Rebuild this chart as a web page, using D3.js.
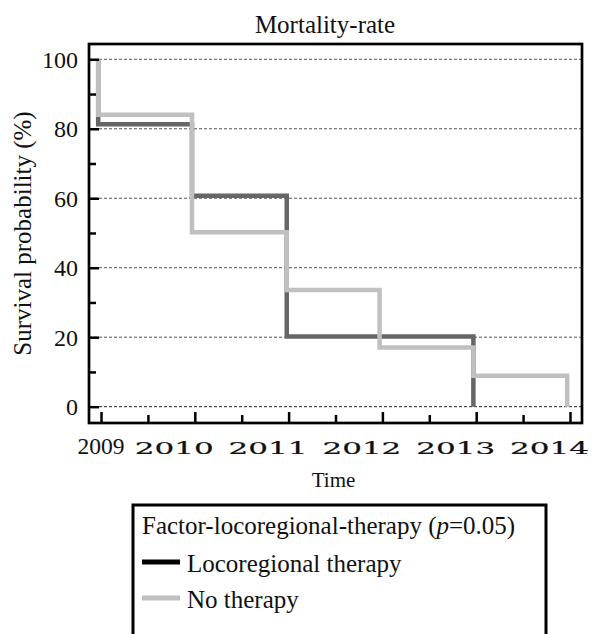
<!DOCTYPE html>
<html>
<head>
<meta charset="utf-8">
<script src="https://cdn.jsdelivr.net/npm/d3@7"></script>
<style>
    html, body { margin: 0; padding: 0; background: #fff; }
    svg { display: block; }
    text { font-family: "Liberation Serif", "Times New Roman", serif; fill: #111; }
</style>
</head>
<body>
<svg id="chart" width="592" height="634"></svg>
<script>
// Data

const locoTimes = [2008.97, 2008.97, 2009.97, 2010.98, 2012.97];
const locoSurv = [100, 81.3, 60.7, 20.2, 0];

const noTimes = [2008.97, 2008.97, 2009.97, 2010.98, 2011.97, 2012.97, 2013.97];
const noSurv = [100, 84, 50.2, 33.6, 17, 8.9, 0];

const yearTicks = [2009, 2010, 2011, 2012, 2013, 2014];
const yearMinor = [2009.5, 2010.5, 2011.5, 2012.5, 2013.5];
const yTicks = [0, 20, 40, 60, 80, 100];
const yMinor = [10, 30, 50, 70, 90];

const legendTitle = "Factor-locoregional-therapy";
const seriesNames = ["Locoregional therapy", "No therapy"];

// Layout

const frame = { left: 89, right: 582, top: 44, bottom: 423 };
const svg = d3.select("#chart");

// Scales

const x = d3.scaleLinear()
    .domain([2008.872, 2014.128])
    .range([frame.left, frame.right]);

const y = d3.scaleLinear()
    .domain([-4.7, 104.4])
    .range([frame.bottom, frame.top]);

// Grid lines (dashed)

svg.append("g")
    .selectAll("line")
    .data(yTicks)
    .join("line")
    .attr("x1", frame.left)
    .attr("x2", frame.right)
    .attr("y1", d => y(d))
    .attr("y2", d => y(d))
    .attr("stroke", d => d === 0 ? "#222" : "#555")
    .attr("stroke-width", 1)
    .attr("stroke-dasharray", "3,2");

// Survival curves

const step = d3.line()
    .x(d => x(d[0]))
    .y(d => y(d[1]))
    .curve(d3.curveStepAfter);

svg.append("path")
    .datum(d3.zip(locoTimes, locoSurv))
    .attr("fill", "none")
    .attr("stroke", "#666")
    .attr("stroke-width", 4.5)
    .attr("d", step);

svg.append("path")
    .datum(d3.zip(noTimes, noSurv))
    .attr("fill", "none")
    .attr("stroke", "#c0c0c0")
    .attr("stroke-width", 4.5)
    .attr("d", step);

// Axes (ticks point inward)

const axisStyle = g => {
    g.select(".domain").remove();
    g.selectAll(".tick line").attr("stroke", "#000").attr("stroke-width", 2.5);
    g.selectAll(".tick text").remove();
};

svg.append("g")
    .attr("transform", `translate(${frame.left},0)`)
    .call(d3.axisLeft(y).tickValues(yTicks).tickSize(-10))
    .call(axisStyle);

svg.append("g")
    .attr("transform", `translate(${frame.left},0)`)
    .call(d3.axisLeft(y).tickValues(yMinor).tickSize(-7))
    .call(axisStyle);

svg.append("g")
    .attr("transform", `translate(0,${frame.bottom})`)
    .call(d3.axisBottom(x).tickValues(yearTicks).tickSize(-11))
    .call(axisStyle);

svg.append("g")
    .attr("transform", `translate(0,${frame.bottom})`)
    .call(d3.axisBottom(x).tickValues(yearMinor).tickSize(-8))
    .call(axisStyle);

// Frame

svg.append("rect")
    .attr("x", frame.left)
    .attr("y", frame.top)
    .attr("width", frame.right - frame.left)
    .attr("height", frame.bottom - frame.top)
    .attr("fill", "none")
    .attr("stroke", "#000")
    .attr("stroke-width", 2.7);

// Tick labels

svg.append("g")
    .selectAll("text")
    .data(yTicks)
    .join("text")
    .attr("x", frame.left - 11)
    .attr("y", d => y(d))
    .attr("dy", "0.35em")
    .attr("text-anchor", "end")
    .style("font-size", "24px")
    .text(d => d);

// first year label is in the plain font, the rest are wider
svg.append("text")
    .attr("x", x(yearTicks[0]))
    .attr("y", 454)
    .attr("text-anchor", "middle")
    .style("font-size", "23.5px")
    .text(yearTicks[0]);

svg.append("g")
    .selectAll("text")
    .data(yearTicks.slice(1))
    .join("text")
    .attr("x", d => x(d) - 60)
    .attr("y", 454)
    .attr("textLength", 79)
    .attr("lengthAdjust", "spacingAndGlyphs")
    .style("font-family", "'DejaVu Serif', serif")
    .style("font-size", "16.5px")
    .style("stroke", "#111")
    .style("stroke-width", 0.2)
    .text(d => d);

// Titles

svg.append("text")
    .attr("x", 325)
    .attr("y", 33)
    .attr("text-anchor", "middle")
    .style("font-size", "25px")
    .text("Mortality-rate");

svg.append("text")
    .attr("transform", `translate(31,${(frame.top + frame.bottom) / 2}) rotate(-90)`)
    .attr("text-anchor", "middle")
    .style("font-size", "25px")
    .text("Survival probability (%)");

svg.append("text")
    .attr("x", 333.5)
    .attr("y", 487)
    .attr("text-anchor", "middle")
    .style("font-size", "21px")
    .text("Time");

// Legend

const legend = svg.append("g");

legend.append("rect")
    .attr("x", 133)
    .attr("y", 505)
    .attr("width", 413)
    .attr("height", 200)
    .attr("fill", "#fff")
    .attr("stroke", "#000")
    .attr("stroke-width", 3);

const lt = legend.append("text")
    .attr("x", 142)
    .attr("y", 534)
    .style("font-size", "25px");
lt.append("tspan").text(legendTitle + " (");
lt.append("tspan").style("font-style", "italic").text("p");
lt.append("tspan").text("=0.05)");

const items = legend.selectAll(".item")
    .data(seriesNames)
    .join("g")
    .attr("class", "item")
    .attr("transform", (d, i) => `translate(0,${562 + i * 36})`);

items.append("line")
    .attr("x1", 142)
    .attr("x2", 180)
    .attr("stroke", (d, i) => i === 0 ? "#000" : "#c0c0c0")
    .attr("stroke-width", 5);

items.append("text")
    .attr("x", 187)
    .attr("y", 10)
    .style("font-size", "25px")
    .text(d => d);
</script>
</body>
</html>
